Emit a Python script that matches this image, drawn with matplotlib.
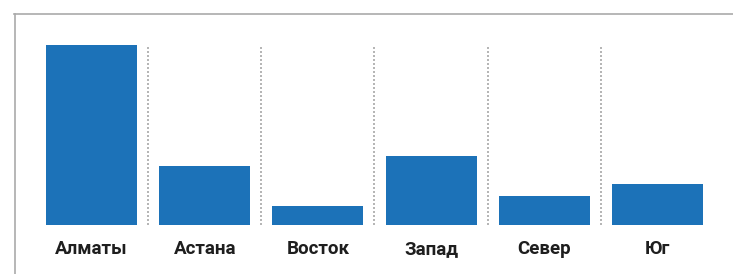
import matplotlib
matplotlib.use('Agg')
import matplotlib.pyplot as plt
from matplotlib.lines import Line2D

regions = ['Алматы', 'Астана', 'Восток', 'Запад', 'Север', 'Юг']
values = [179, 59, 19, 69, 29, 41]

W, H = 733, 274
fig = plt.figure(figsize=(W / 100, H / 100), dpi=100)

# plot area in pixels: x 35..714, y 45..225 (from top)
ax = fig.add_axes([35 / W, (H - 225) / H, (714 - 35) / W, (225 - 45) / H])
x = list(range(len(regions)))
ax.bar(x, values, width=0.805, color='#1c72b8', zorder=2)
ax.set_xlim(-0.5, len(regions) - 0.5)
ax.set_ylim(0, max(values))

for i in range(1, len(regions)):
    ax.axvline(i - 0.5, color='#a8a8a8', lw=1.2, ls=(0, (1.2, 1.2)), zorder=1)

ax.set_xticks(x)
ax.set_xticklabels(regions, fontfamily='Roboto', fontweight='bold',
                   fontsize=13.5, color='#1e1e1e')
ax.tick_params(axis='x', length=0, pad=11)
ax.set_yticks([])
for s in ax.spines.values():
    s.set_visible(False)

# panel frame (top and left edges)
fig.add_artist(Line2D([14.5 / W, 14.5 / W], [0, (H - 13.5) / H],
                      transform=fig.transFigure, color='#aaaaaa', lw=1.2))
fig.add_artist(Line2D([14 / W, 1], [(H - 13.5) / H, (H - 13.5) / H],
                      transform=fig.transFigure, color='#aaaaaa', lw=1.2))

fig.savefig('out.png', dpi=100)
print('done')
